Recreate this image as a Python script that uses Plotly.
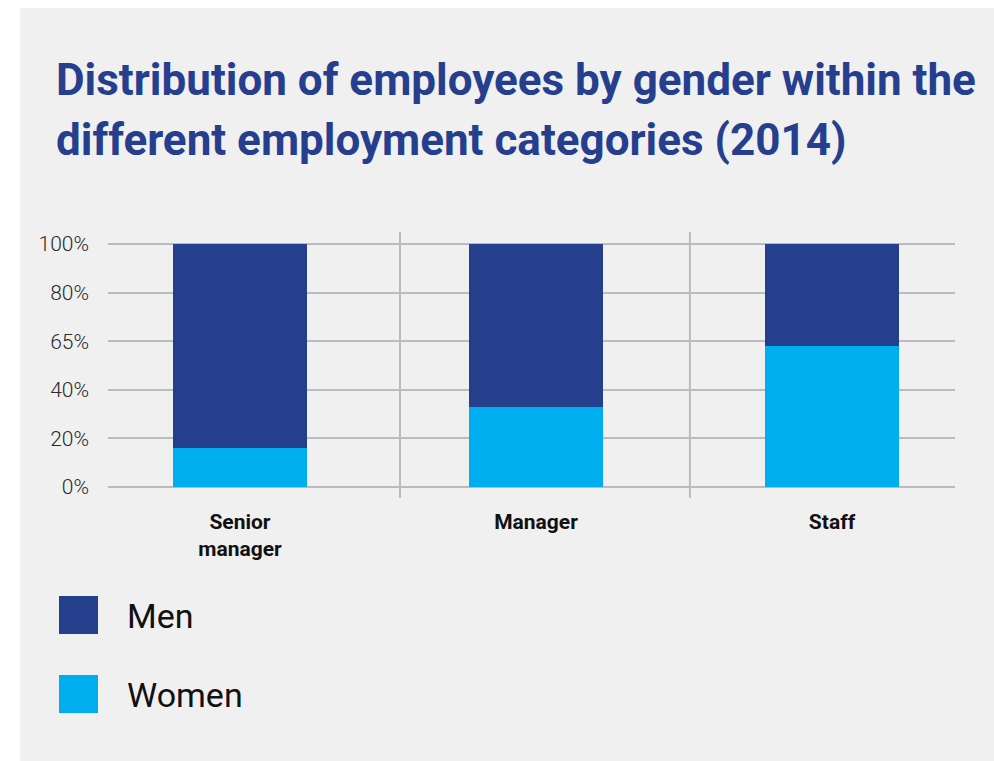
import plotly.graph_objects as go

# Data
categories = ["Senior<br>manager", "Manager", "Staff"]
women_pct = [16, 33, 58]
men_pct = [100 - w for w in women_pct]
series_names = ["Men", "Women"]
series_colors = ["#24408c", "#00aeef"]
tick_vals = [0, 20, 40, 60, 80, 100]
tick_text = ["0%", "20%", "40%", "65%", "80%", "100%"]
title_lines = ["Distribution of employees by gender within the",
               "different employment categories (2014)"]

W, H = 994, 761
L, R, T, B = 108, 955, 232, 498  # plot area in pixels


def px(x):
    return (x - L) / (R - L)


def py(y):
    return (B - y) / (B - T)


xpos = list(range(len(categories)))

fig = go.Figure()
fig.add_trace(go.Bar(x=xpos, y=women_pct, name=series_names[1], width=0.453,
                     marker=dict(color=series_colors[1], line=dict(width=0)),
                     showlegend=False))
fig.add_trace(go.Bar(x=xpos, y=men_pct, name=series_names[0], width=0.453,
                     marker=dict(color=series_colors[0], line=dict(width=0)),
                     showlegend=False))

shapes = []
# light grey panel
shapes.append(dict(type="rect", xref="paper", yref="paper",
                   x0=px(20), x1=px(1000), y0=py(770), y1=py(8),
                   fillcolor="#f0f0f0", line=dict(width=0), layer="below"))
# vertical separators between categories
for sx in [0.5405, 1.52]:
    shapes.append(dict(type="line", xref="x", yref="paper", x0=sx, x1=sx,
                       y0=0, y1=1, line=dict(color="#b9bbbe", width=2),
                       layer="below"))

annotations = []
# title
for i, line in enumerate(title_lines):
    annotations.append(dict(text=f"<b>{line}</b>", xref="paper", yref="paper",
                            x=px(54), y=py(80 + 60 * i), xanchor="left",
                            yanchor="middle", showarrow=False,
                            font=dict(family="Roboto", size=44, color="#253f8e")))

# legend
for i, (name, col) in enumerate(zip(series_names, series_colors)):
    y0 = 596 + 79 * i
    shapes.append(dict(type="rect", xref="paper", yref="paper",
                       x0=px(59), x1=px(98), y0=py(y0 + 38), y1=py(y0),
                       fillcolor=col, line=dict(width=0)))
    annotations.append(dict(text=name, xref="paper", yref="paper",
                            x=px(125), y=py(y0 + 20), xanchor="left",
                            yanchor="middle", showarrow=False,
                            font=dict(family="Roboto", size=34, color="#111111")))

fig.update_layout(
    width=W, height=H,
    margin=dict(l=L, r=W - R, t=T, b=H - B, pad=0),
    paper_bgcolor="white",
    plot_bgcolor="rgba(0,0,0,0)",
    barmode="stack",
    bargap=0,
    shapes=shapes,
    annotations=annotations,
    xaxis=dict(range=[-0.4459, 2.4155], tickvals=xpos, ticktext=categories,
               showgrid=False, zeroline=False, showline=False, ticks="",
               ticklabelstandoff=9,
               tickfont=dict(family="Roboto", size=21, color="#111111",
                             weight="bold")),
    yaxis=dict(range=[-4.53, 104.94], tickvals=tick_vals, ticktext=tick_text,
               showgrid=True, gridcolor="#b9bbbe", gridwidth=2,
               zeroline=False, showline=False, ticks="",
               ticklabelstandoff=18,
               tickfont=dict(family="Roboto", size=21, color="#2a2a2a",
                             weight=300)),
)

fig.write_html("out.html")
